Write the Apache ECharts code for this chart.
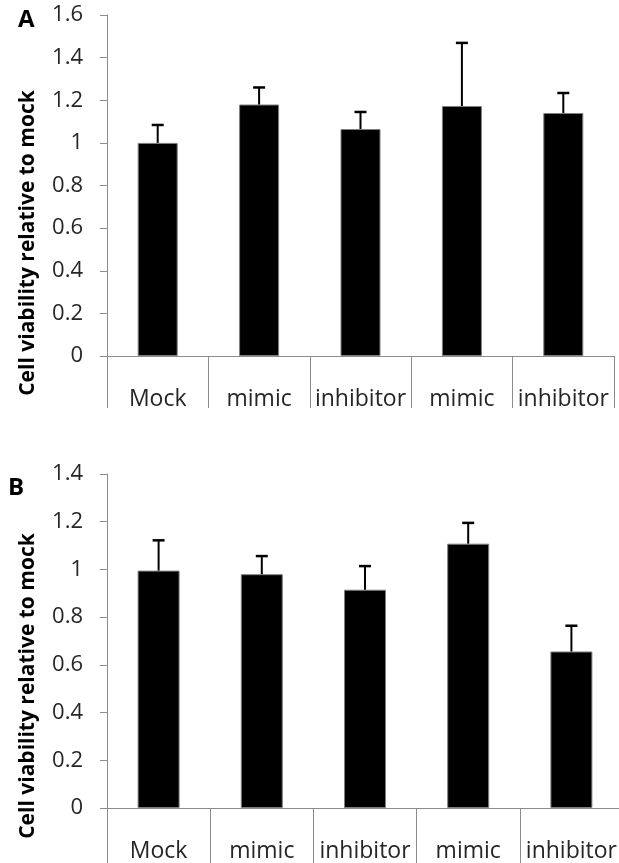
<!DOCTYPE html>
<html>
<head>
<meta charset="utf-8">
<script src="https://cdn.jsdelivr.net/npm/echarts@6/dist/echarts.min.js"></script>
<style>
  body { margin: 0; background: #fff; }
  .clip { position: absolute; left: 0; width: 619px; overflow: hidden; }
</style>
</head>
<body>
<div class="clip" style="top:0;height:408px"><div id="chartA" style="width:619px;height:440px"></div></div>
<div class="clip" style="top:420px;height:443px"><div id="chartB" style="width:630px;height:480px"></div></div>
<script>
// groups on the x axis (same for both panels)
var categories = ['Mock', 'mimic', 'inhibitor', 'mimic', 'inhibitor'];

// panel A
var viabilityA = [1.00, 1.18, 1.065, 1.173, 1.14];
var errorA = [0.084, 0.08, 0.08, 0.296, 0.094];
var yMaxA = 1.6;

// panel B
var viabilityB = [0.995, 0.98, 0.915, 1.108, 0.656];
var errorB = [0.127, 0.076, 0.099, 0.087, 0.108];
var yMaxB = 1.4;

var yStep = 0.2;
var yTitle = 'Cell viability relative to mock';
var FONT = '"Open Sans", "Noto Sans", sans-serif';

function renderErr(params, api) {
  var x = api.value(0), v = api.value(1), e = api.value(2);
  var base = api.coord([x, v]);
  var top = api.coord([x, v + e]);
  var half = 6;
  return {
    type: 'group',
    children: [
      { type: 'line', shape: { x1: base[0], y1: base[1], x2: top[0], y2: top[1] },
        style: { stroke: '#000', lineWidth: 2 } },
      { type: 'line', shape: { x1: top[0] - half, y1: top[1], x2: top[0] + half, y2: top[1] },
        style: { stroke: '#000', lineWidth: 2.5 } }
    ]
  };
}

function makeOption(cfg) {
  var errData = cfg.values.map(function (v, i) { return [i, v, cfg.errors[i]]; });
  return {
    animation: false,
    grid: cfg.grid,
    xAxis: {
      type: 'category',
      data: categories,
      axisLine: { lineStyle: { color: '#8c8c8c', width: 1 } },
      axisTick: { show: true, interval: 0, length: 70, lineStyle: { color: '#8c8c8c' } },
      axisLabel: { fontFamily: FONT, fontSize: 23, color: '#262626', margin: 32, interval: 0 }
    },
    yAxis: {
      type: 'value',
      min: 0,
      max: cfg.max,
      interval: yStep,
      axisLine: { show: true, lineStyle: { color: '#8c8c8c', width: 1 } },
      axisTick: { show: true, length: 7, lineStyle: { color: '#8c8c8c' } },
      splitLine: { show: false },
      axisLabel: { fontFamily: FONT, fontSize: 22, color: '#262626', margin: 24 }
    },
    graphic: [
      { type: 'text', left: cfg.letterPos[0], top: cfg.letterPos[1],
        style: { text: cfg.letter, font: 'bold 24px ' + FONT, fill: '#000' } },
      { type: 'text', x: 28, y: cfg.titleY, rotation: Math.PI / 2,
        style: { text: yTitle, font: 'bold 21px ' + FONT, fill: '#000',
                 align: 'center', verticalAlign: 'middle' } }
    ],
    series: [
      {
        type: 'bar',
        data: cfg.values,
        barWidth: cfg.barWidth,
        itemStyle: { color: '#000', borderColor: '#7f7f7f', borderWidth: 1 }
      },
      {
        type: 'custom',
        renderItem: renderErr,
        data: errData,
        z: 5
      }
    ]
  };
}

var chartA = echarts.init(document.getElementById('chartA'));
chartA.setOption(makeOption({
  values: viabilityA, errors: errorA, max: yMaxA,
  grid: { left: 107, top: 15, width: 507, height: 341 },
  barWidth: 40, letter: 'A', letterPos: [18, 8], titleY: 243
}));

var chartB = echarts.init(document.getElementById('chartB'));
chartB.setOption(makeOption({
  values: viabilityB, errors: errorB, max: yMaxB,
  grid: { left: 107, top: 54, width: 516, height: 334 },
  barWidth: 42, letter: 'B', letterPos: [8, 56], titleY: 266
}));
</script>
</body>
</html>
